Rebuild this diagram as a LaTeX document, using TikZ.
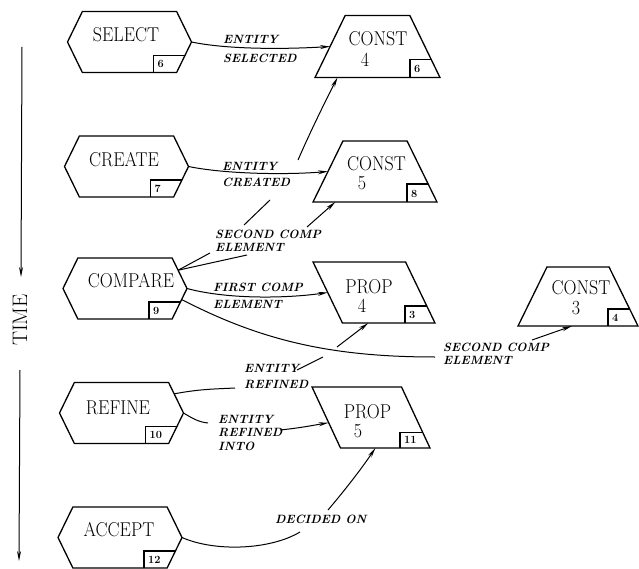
\documentclass[tikz,border=0pt]{standalone}
\usetikzlibrary{shapes.geometric,shapes.symbols,arrows.meta,calc}
\newcommand\hexnode[7]{%
  \node[hexa] (#1) at (#2,#3) {};
  \node[big] (#1-t) at (#4,#5) {#6};
  \draw[shapeline] ($(#1.east)+(-38,30.5)$) -- ($(#1.east)+(-38,13.5)$) -- ($(#1.east)+(-6.6,13.5)$);
  \node[num] (#1-n) at ($(#1.east)+(-34,22)$) {#7};
}
\newcommand\quadbox[3]{%
  \coordinate (#1-b) at ($(#1.bottom right corner)!#2!(#1.top right corner)$);
  \coordinate (#1-bl) at ([xshift=-30pt]#1.bottom right corner);
  \draw[shapeline] (#1-bl) |- (#1-b);
  \node[num] (#1-n) at ($(#1-bl)+(4,-8.5)$) {#3};
}
\begin{document}
\begin{tikzpicture}[x=1pt,y=-1pt,
  shapeline/.style={draw=black, line width=1.3pt},
  hexa/.style={shapeline, signal, signal to=west and east, signal pointer angle=128,
    minimum width=124pt, minimum height=61pt, inner sep=2pt, outer sep=0pt},
  trap/.style={shapeline, trapezium, trapezium left angle=65, trapezium right angle=65,
    trapezium stretches=true, inner sep=2pt, outer sep=0pt},
  para/.style={shapeline, trapezium, trapezium left angle=115, trapezium right angle=65,
    trapezium stretches=true, inner sep=2pt, outer sep=0pt},
  big/.style={font=\fontsize{20}{22}\selectfont, inner sep=0pt, xscale=0.9},
  timefont/.style={font=\fontsize{21}{23}\selectfont, inner sep=0pt},
  num/.style={font=\fontsize{11}{12}\selectfont\bfseries, inner sep=0pt, anchor=west},
  lab/.style={font=\fontsize{12}{#1}\selectfont\bfseries\itshape, inner sep=0pt, anchor=west, align=left},
  lab/.default=13.5,
  conn/.style={line width=1pt},
  arr/.style={conn, -{Stealth[length=10pt,width=4pt]}},
]
\fill[white] (0,0) rectangle (639,569);
\useasboundingbox (0,0) rectangle (639,569);

% time axis
\coordinate (t1) at (22,47);
\coordinate (t2) at (21,277);
\node[timefont, rotate=90] (time) at (20,320) {TIME};
\coordinate (t3) at (20,370);
\coordinate (t4) at (19,561);
\draw[arr] (t1) -- (t2);
\draw[arr] (t3) -- (t4);

% activity hexagons
\hexnode{sel}{129.5}{42}{126}{35}{SELECT}{6}
\hexnode{cre}{126.5}{166.5}{124}{160}{CREATE}{7}
\hexnode{cmp}{125}{288.5}{131}{281}{COMPARE}{9}
\hexnode{ref}{121.5}{413}{118}{407.5}{REFINE}{10}
\hexnode{acc}{120}{537.5}{119}{530}{ACCEPT}{12}

% constants (trapezia)
\node[trap, minimum width=125pt, minimum height=62pt] (c4) at (377.5,46.5) {};
\node[big] (c4-t) at (378,38.5) {CONST};
\node[big] (c4-v) at (365,60) {4};
\quadbox{c4}{0.29}{6}

\node[trap, minimum width=124pt, minimum height=61pt] (c5) at (375,171.5) {};
\node[big] (c5-t) at (376.5,163.5) {CONST};
\node[big] (c5-v) at (362,183.5) {5};
\quadbox{c5}{0.295}{8}

\node[trap, minimum width=120pt, minimum height=59pt] (c3) at (578,296.5) {};
\node[big] (c3-t) at (581,288) {CONST};
\node[big] (c3-v) at (576,308) {3};
\quadbox{c3}{0.29}{4}

% propositions (parallelograms)
\node[para, minimum width=122pt, minimum height=61pt] (p4) at (374,292.5) {};
\node[big] (p4-t) at (369,286.5) {PROP};
\node[big] (p4-v) at (362,306) {4};
\quadbox{p4}{0.28}{3}

\node[para, minimum width=118pt, minimum height=61pt] (p5) at (371,417.5) {};
\node[big] (p5-t) at (367.5,411.5) {PROP};
\node[big] (p5-v) at (358,431) {5};
\quadbox{p5}{0.25}{11}

% labels
\node[lab=19] (lA) at (223,48.5) {ENTITY\\SELECTED};
\node[lab=16] (lB) at (222,174) {ENTITY\\CREATED};
\node[lab=12.5] (lC) at (215,241) {SECOND COMP\\ELEMENT};
\node[lab=17.5] (lD) at (213,296) {FIRST COMP\\ELEMENT};
\node[lab=13.5] (lE) at (443,354) {SECOND COMP\\ELEMENT};
\node[lab=16] (lF) at (244,376) {ENTITY\\REFINED};
\node[lab=13.5] (lG) at (218,432.5) {ENTITY\\REFINED\\INTO};
\node[lab] (lH) at (275,519) {DECIDED ON};

% connector way points
\coordinate (c1a) at (210,253);
\coordinate (c1b) at (244,225);
\coordinate (c1c) at (270,200);
\coordinate (c1d) at (298,160);
\coordinate (c4in) at ($(c4.bottom left corner)!0.18!(c4.bottom right corner)$);
\coordinate (c2a) at (247,255);
\coordinate (c2b) at (307,227);
\coordinate (c5in) at ($(c5.bottom left corner)!0.18!(c5.bottom right corner)$);
\coordinate (ea) at (435,357);
\coordinate (eb) at (532,340);
\coordinate (c3in) at ($(c3.bottom left corner)!0.45!(c3.bottom right corner)$);
\coordinate (fa) at (235,388);
\coordinate (fb) at (297,370);
\coordinate (fc) at (323,357);
\coordinate (fd) at (337,347);
\coordinate (p4in) at ($(p4.bottom left corner)!0.28!(p4.bottom right corner)$);
\coordinate (ga) at (208,423);
\coordinate (gb) at (280,430);
\coordinate (ha) at (300,532);
\coordinate (hb) at (328,510);
\coordinate (p5in) at ($(p5.bottom left corner)!0.39!(p5.bottom right corner)$);

% connectors
\draw[arr] (sel.east) .. controls (230,50) and (290,49) .. (c4.west);
\draw[arr] (cre.east) .. controls (225,174) and (285,175) .. (c5.west);
\draw[conn] (cmp.19) -- (c1a);
\draw[conn] (c1b) -- (c1c);
\draw[arr] (c1d) .. controls (312,128) and (326,100) .. (c4in);
\draw[conn] (cmp.19) -- (c2a);
\draw[arr] (c2b) -- (c5in);
\draw[arr] (cmp.east) .. controls (230,300) and (290,298) .. (p4.west);
\draw[conn] (cmp.-11) .. controls (260,340) and (330,357) .. (ea);
\draw[arr] (eb) -- (c3in);
\draw[conn] (ref.20) .. controls (200,389) and (215,389) .. (fa);
\draw[conn] (fb) -- (fc);
\draw[arr] (fd) -- (p4in);
\draw[conn] (ref.east) .. controls (192,418) and (198,422) .. (ga);
\draw[arr] (gb) .. controls (300,428) and (315,425) .. (p5.187);
\draw[conn] (acc.east) .. controls (215,552) and (270,550) .. (ha);
\draw[arr] (hb) .. controls (345,490) and (362,468) .. (p5in);
\end{tikzpicture}
\end{document}
